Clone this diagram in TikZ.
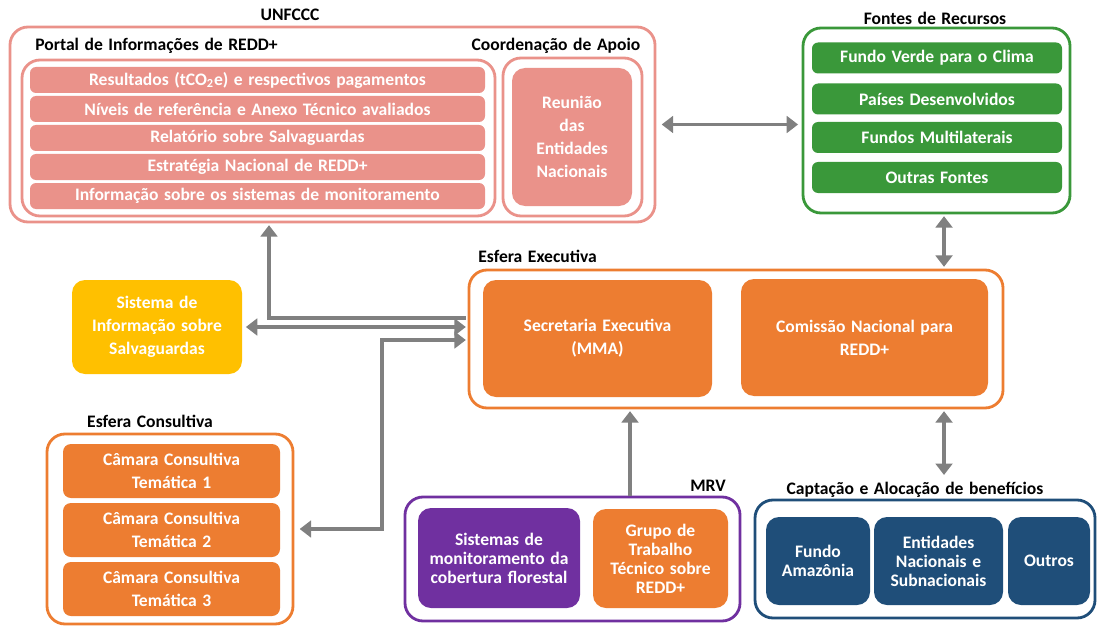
\documentclass[tikz,border=0pt]{standalone}
\usepackage{fontspec}
\setmainfont{Carlito}[WordSpace=1.4]
\usetikzlibrary{arrows.meta}
\definecolor{reddpink}{RGB}{234,146,138}
\definecolor{reddgreen}{RGB}{58,152,58}
\definecolor{reddorange}{RGB}{237,125,49}
\definecolor{reddyellow}{RGB}{255,192,0}
\definecolor{reddpurple}{RGB}{112,48,160}
\definecolor{reddblue}{RGB}{31,78,121}
\definecolor{reddgray}{RGB}{128,128,128}
\newcommand\txt{\bfseries\fontsize{10}{13}\selectfont}
\newcommand\txtb{\bfseries\fontsize{10}{10.8}\selectfont}

\begin{document}
\begin{tikzpicture}[x=0.02cm, y=-0.02cm,
    wh/.style 2 args={minimum width=#1*0.02cm, minimum height=#2*0.02cm},
    group/.style={draw=#1, fill=white, line width=1.6pt, rounded corners=0.36cm, inner sep=0pt},
    item/.style={fill=#1, text=white, rounded corners=0.26cm, inner sep=0pt, align=center, font=\txt},
    row/.style={fill=#1, text=white, rounded corners=0.12cm, inner sep=0pt, font=\txt},
    title/.style={font=\txt, inner sep=0pt},
    link/.style={draw=reddgray, line width=2.2pt},
    >={Triangle[length=6.5pt, width=9.5pt]}]
    \useasboundingbox (0,0) rectangle (1097,628);

    % UNFCCC
    \node[title] (unfccclab) at (290,15) {UNFCCC};
    \node[group=reddpink, wh={645}{195}] (unfccc) at (332.5,124.5) {};
    \node[title, anchor=west] (portallab) at (35,46) {Portal de Informações de REDD+};
    \node[group=reddpink, wh={473}{156}] (portal) at (258.5,138) {};
    \node[row=reddpink, wh={455}{26}] (resultados) at (257.5,80) {Resultados (tCO\textsubscript{2}e) e respectivos pagamentos};
    \node[row=reddpink, wh={455}{26}] (niveis) at (257.5,109) {Níveis de referência e Anexo Técnico avaliados};
    \node[row=reddpink, wh={455}{26}] (relatorio) at (257.5,138) {Relatório sobre Salvaguardas};
    \node[row=reddpink, wh={455}{26}] (estrategia) at (257.5,167) {Estratégia Nacional de REDD+};
    \node[row=reddpink, wh={455}{26}] (informacao) at (257.5,196) {Informação sobre os sistemas de monitoramento};
    \node[title] (coordlab) at (556,46) {Coordenação de Apoio};
    \node[group=reddpink, wh={139}{158}] (coord) at (572.5,137) {};
    \node[item=reddpink, wh={120}{138}] (reuniao) at (572,137) {Reunião\\das\\Entidades\\Nacionais};

    % Fontes de Recursos
    \node[title] (fonteslab) at (935,18) {Fontes de Recursos};
    \node[group=reddgreen, wh={267}{185}] (fontes) at (936.5,120.5) {};
    \node[row=reddgreen, wh={250}{31}] (fundoverde) at (937,58) {Fundo Verde para o Clima};
    \node[row=reddgreen, wh={250}{31}] (paises) at (937,99) {Países Desenvolvidos};
    \node[row=reddgreen, wh={250}{31}] (multilaterais) at (937,137.5) {Fundos Multilaterais};
    \node[row=reddgreen, wh={250}{31}] (outrasfontes) at (937,177.5) {Outras Fontes};

    % Esfera Executiva
    \node[title, anchor=west] (execlab) at (478,256) {Esfera Executiva};
    \node[group=reddorange, wh={534}{138}] (exec) at (736,339) {};
    \node[item=reddorange, wh={229}{117}] (secretaria) at (597.5,338.5) {Secretaria Executiva\\(MMA)};
    \node[item=reddorange, wh={247}{117}] (comissao) at (864.5,337.5) {Comissão Nacional para\\REDD+};

    % Salvaguardas
    \node[item=reddyellow, wh={170}{94}] (sis) at (157,327) {Sistema de\\Informação sobre\\Salvaguardas};

    % Esfera Consultiva
    \node[title] (consultlab) at (150,421) {Esfera Consultiva};
    \node[group=reddorange, wh={246}{190}] (consult) at (170,529) {};
    \node[item=reddorange, rounded corners=0.16cm, wh={217}{54}] (camara1) at (171.5,471) {Câmara Consultiva\\Temática 1};
    \node[item=reddorange, rounded corners=0.16cm, wh={217}{54}] (camara2) at (171.5,530) {Câmara Consultiva\\Temática 2};
    \node[item=reddorange, rounded corners=0.16cm, wh={217}{54}] (camara3) at (171.5,589) {Câmara Consultiva\\Temática 3};

    % MRV
    \node[title] (mrvlab) at (708,486) {MRV};
    \node[group=reddpurple, wh={335}{124}] (mrv) at (572.5,559) {};
    \node[item=reddpurple, font=\txtb, wh={162}{100}] (sistemas) at (499,558) {Sistemas de\\monitoramento da\\cobertura florestal};
    \node[item=reddorange, font=\txtb, wh={135}{99}] (grupo) at (660.5,558.5) {Grupo de\\Trabalho\\Técnico sobre\\REDD+};

    % Captacao e Alocacao
    \node[title] (captlab) at (915,490) {Captação e Alocação de benefícios};
    \node[group=reddblue, wh={340}{118}] (capt) at (925,559) {};
    \node[item=reddblue, font=\txtb, wh={104}{88}] (amazonia) at (818,561) {Fundo\\Amazônia};
    \node[item=reddblue, font=\txtb, wh={129}{88}] (entidades) at (938.5,561) {Entidades\\Nacionais e\\Subnacionais};
    \node[item=reddblue, font=\txtb, wh={82}{88}] (outros) at (1049,561) {Outros};

    % Connectors
    \coordinate (fx) at (944,0);
    \coordinate (mx) at (630,0);
    \coordinate (ax) at (269,0);
    \coordinate (cx) at (382,0);
    \coordinate (ya) at (0,318);
    \coordinate (yc) at (0,340);
    \draw[link, <->, shorten <=3pt, shorten >=2pt] (unfccc.east) -- (unfccc.east -| fontes.west);
    \draw[link, <->, shorten <=1pt, shorten >=1pt] (fx |- fontes.south) -- (fx |- exec.north);
    \draw[link, <->, shorten <=1pt, shorten >=4pt] (fx |- exec.south) -- (fx |- captlab.north);
    \draw[link, ->, shorten >=1pt] (mx |- mrv.north) -- (mx |- exec.south);
    \draw[link, ->, shorten <=1pt, shorten >=1pt] (exec.west |- ya) -- (ax |- ya) -- (ax |- unfccc.south);
    \draw[link, <->, shorten <=2pt, shorten >=1pt] (sis.east) -- (sis.east -| exec.west);
    \draw[link, <->, shorten <=1pt, shorten >=3pt] (exec.west |- yc) -- (cx |- yc) -- (cx |- consult.east) -- (consult.east);
\end{tikzpicture}
\end{document}
